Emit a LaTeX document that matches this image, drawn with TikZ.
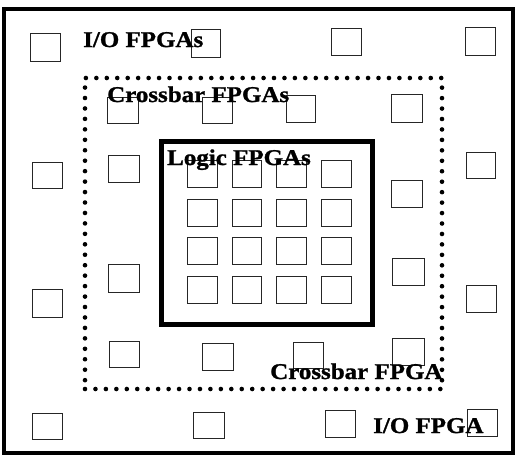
\documentclass[tikz,border=0pt]{standalone}
\usepackage{fontspec}
\setmainfont{Liberation Serif}
\newfontfamily\lblfont[FakeStretch=1.11, BoldFeatures={FakeBold=1.2}]{Liberation Serif}
\usetikzlibrary{fit}
\begin{document}
\begin{tikzpicture}[x=1pt,y=-1pt,
  fbox/.style={draw=black!85, line width=0.9pt, inner sep=0pt},
  lbl/.style={anchor=base west, inner sep=0pt, font=\lblfont\bfseries\fontsize{22.5}{26}\selectfont}]
\useasboundingbox[fill=white] (0,0) rectangle (518,461);
% outer frame (I/O level)
\node[draw, line width=4.5pt, inner sep=0pt, fit={(4,9) (513,453)}] (ioframe) {};
% dotted crossbar frame
\node[draw, line width=4.6pt, dash pattern=on 0pt off 10.45pt, line cap=round, inner sep=0pt, fit={(85,78) (442,389)}] (xbframe) {};
% logic frame
\node[draw, line width=5pt, inner sep=0pt, fit={(161,141) (372,324)}] (lgframe) {};
% I/O FPGAs
\foreach \n/\a/\b/\c/\d in {io1/30/33/60/61, io2/191/29/220/57, io3/331/28/361/55, io4/465/27/495/55,
  io5/32/162/62/188, io6/466/152/495/178, io7/32/289/62/317, io8/466/285/496/312,
  io9/32/413/62/439, io10/193/412/224/438, io11/325/410/355/437, io12/467/409/497/436}
  \node[fbox, fit={(\a,\b) (\c,\d)}] (\n) {};
% Crossbar FPGAs
\foreach \n/\a/\b/\c/\d in {xb1/107/97/138/123, xb2/202/97/232/123, xb3/286/95/315/122, xb4/391/94/422/122,
  xb5/108/155/139/182, xb6/391/180/422/207, xb7/108/264/139/292, xb8/392/258/424/285,
  xb9/109/341/139/367, xb10/202/343/233/370, xb11/293/342/323/368, xb12/392/338/424/365}
  \node[fbox, fit={(\a,\b) (\c,\d)}] (\n) {};
% Logic FPGAs
\foreach \i/\xa/\xb in {1/187/217, 2/232/261, 3/276/306, 4/321/351}
  \foreach \j/\ya/\yb in {1/160/187, 2/199/226, 3/237/264, 4/276/303}
    \node[fbox, fit={(\xa,\ya) (\xb,\yb)}] (lg\i\j) {};
% labels
\node[lbl] (lio) at (83,47) {I/O FPGAs};
\node[lbl] (lxb) at (107,102) {Crossbar FPGAs};
\node[lbl] (llg) at (167,165) {Logic FPGAs};
\node[lbl] (lxb2) at (270,379) {Crossbar FPGA};
\node[lbl] (lio2) at (373,433) {I/O FPGA};
\end{tikzpicture}
\end{document}
